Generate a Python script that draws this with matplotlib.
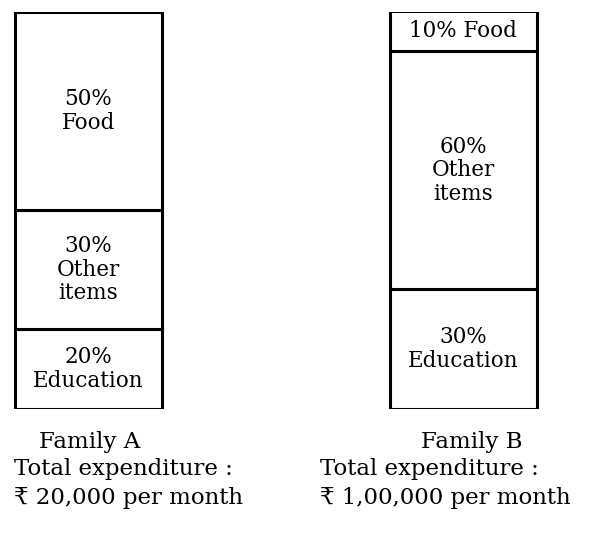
import matplotlib
matplotlib.use("Agg")
import matplotlib.pyplot as plt

plt.rcParams['font.family'] = ['DejaVu Serif', 'DejaVu Sans']

families = ["Family A", "Family B"]
categories = ["Education", "Other\nitems", "Food"]  # bottom to top
family_a = [20, 30, 50]
family_b = [30, 60, 10]
totals = ["₹ 20,000 per month", "₹ 1,00,000 per month"]

W, H = 605, 539
fig = plt.figure(figsize=(W / 100, H / 100), dpi=100)
ax = fig.add_axes([0, (H - 408.5) / H, 1, 397 / H])
ax.set_xlim(0, W)
ax.set_ylim(0, 100)
ax.axis('off')

centers = [88.5, 463]
width = 147
series = [family_a, family_b]

for xc, vals in zip(centers, series):
    bottom = 0
    for cat, v in zip(categories, vals):
        ax.bar(xc, v, width=width, bottom=bottom, color='white',
               edgecolor='black', linewidth=2.2)
        if v <= 10:
            label = f"{v}% {cat.replace(chr(10), ' ')}"
        else:
            label = f"{v}%\n{cat}"
        ax.text(xc, bottom + v / 2, label, ha='center', va='center',
                fontsize=15.5, linespacing=1.1)
        bottom += v

def fx(px):
    return px / W

def fy(py):
    return 1 - py / H

label_x = [(90, 14), (472, 320)]
for (cx, lx), fam, tot in zip(label_x, families, totals):
    fig.text(fx(cx), fy(442), fam, ha='center', va='center', fontsize=16.5)
    fig.text(fx(lx), fy(469), "Total expenditure :", ha='left', va='center', fontsize=16.5)
    fig.text(fx(lx), fy(498), tot, ha='left', va='center', fontsize=16.5)

fig.savefig("out.png", dpi=100)
